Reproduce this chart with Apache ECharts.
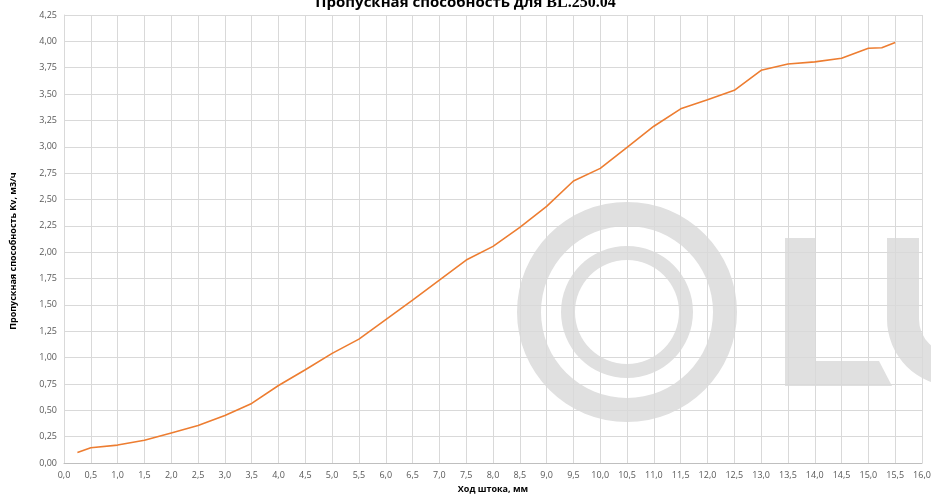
<!DOCTYPE html>
<html>
<head>
<meta charset="utf-8">
<script src="https://cdn.jsdelivr.net/npm/echarts@6/dist/echarts.min.js"></script>
<style>
html,body{margin:0;padding:0;background:#fff;}
#chart{width:931px;height:494px;}
</style>
</head>
<body>
<div id="chart"></div>
<script>
// Data
const titleMain = 'Пропускная способность для ';
const titleCode = 'BL.250.04';
const xAxisTitle = 'Ход штока, мм';
const yAxisTitle = 'Пропускная способность Kv, м3/ч';
const strokeMm = [0.25, 0.5, 1.0, 1.5, 2.0, 2.5, 3.0, 3.5, 4.0, 4.5, 5.0, 5.5, 6.0, 6.5, 7.0, 7.5, 8.0, 8.5, 9.0, 9.5, 10.0, 10.5, 11.0, 11.5, 12.0, 12.5, 13.0, 13.5, 14.0, 14.5, 15.0, 15.25, 15.5];
const kvValues = [0.10, 0.145, 0.17, 0.215, 0.285, 0.355, 0.45, 0.565, 0.735, 0.885, 1.04, 1.175, 1.36, 1.545, 1.735, 1.925, 2.055, 2.235, 2.435, 2.675, 2.795, 2.995, 3.195, 3.36, 3.445, 3.535, 3.725, 3.785, 3.805, 3.84, 3.935, 3.94, 3.99];
const xTicks = {min: 0, max: 16, step: 0.5};
const yTicks = {min: 0, max: 4.25, step: 0.25};

const chart = echarts.init(document.getElementById('chart'), null, {renderer: 'canvas'});
const wm = '#e0e0e0';
const option = {
  animation: false,
  backgroundColor: '#ffffff',
  title: {
    text: '{a|' + titleMain + '}{b|' + titleCode + '}',
    left: 'center',
    top: -10,
    textStyle: {
      rich: {
        a: {fontFamily: '"Open Sans", sans-serif', fontWeight: 'bold', fontSize: 15, color: '#000'},
        b: {fontFamily: '"Liberation Serif", serif', fontWeight: 'bold', fontSize: 16, color: '#000'}
      }
    }
  },
  graphic: {
    elements: [
      {type: 'ring', z: -10, silent: true, shape: {cx: 627, cy: 312, r: 110, r0: 86}, style: {fill: wm}},
      {type: 'ring', z: -10, silent: true, shape: {cx: 627, cy: 312, r: 66, r0: 52}, style: {fill: wm}},
      {type: 'rect', z: -10, silent: true, shape: {x: 785, y: 238, width: 31, height: 148}, style: {fill: wm}},
      {type: 'polygon', z: -10, silent: true, shape: {points: [[785, 361], [879, 361], [892, 386], [785, 386]]}, style: {fill: wm}},
      {type: 'rect', z: -10, silent: true, shape: {x: 887, y: 238, width: 32, height: 82}, style: {fill: wm}},
      {type: 'sector', z: -10, silent: true, shape: {cx: 954, cy: 319, r: 67, r0: 35, startAngle: Math.PI / 2, endAngle: Math.PI, clockwise: true}, style: {fill: wm}}
    ]
  },
  grid: {left: 64, right: 9, top: 15, bottom: 31, containLabel: false, outerBoundsMode: 'none'},
  xAxis: {
    type: 'value',
    min: xTicks.min, max: xTicks.max, interval: xTicks.step,
    name: xAxisTitle,
    nameLocation: 'middle',
    nameGap: 20,
    nameTextStyle: {fontFamily: '"Open Sans", sans-serif', fontWeight: 'bold', fontSize: 9, color: '#000'},
    axisLine: {show: true, lineStyle: {color: '#bfbfbf', width: 1}},
    axisTick: {show: false},
    axisLabel: {
      fontFamily: '"Open Sans", sans-serif', fontSize: 9, color: '#595959', margin: 8,
      formatter: v => v.toFixed(1).replace('.', ',')
    },
    splitLine: {show: true, lineStyle: {color: '#d9d9d9', width: 1}}
  },
  yAxis: {
    type: 'value',
    min: yTicks.min, max: yTicks.max, interval: yTicks.step,
    name: yAxisTitle,
    nameLocation: 'middle',
    nameGap: 46,
    nameRotate: 90,
    nameTextStyle: {fontFamily: '"Open Sans", sans-serif', fontWeight: 'bold', fontSize: 9, color: '#000', padding: [0, 24, 0, 0]},
    axisLine: {show: true, lineStyle: {color: '#d9d9d9', width: 1}},
    axisTick: {show: false},
    axisLabel: {
      fontFamily: '"Open Sans", sans-serif', fontSize: 9, color: '#595959', margin: 7,
      formatter: v => v.toFixed(2).replace('.', ',')
    },
    splitLine: {show: true, lineStyle: {color: '#d9d9d9', width: 1}}
  },
  series: [{
    type: 'line',
    data: strokeMm.map((x, i) => [x, kvValues[i]]),
    showSymbol: false,
    symbol: 'none',
    lineStyle: {color: '#ED7D31', width: 1.6},
    z: 5
  }]
};
chart.setOption(option);
</script>
</body>
</html>
